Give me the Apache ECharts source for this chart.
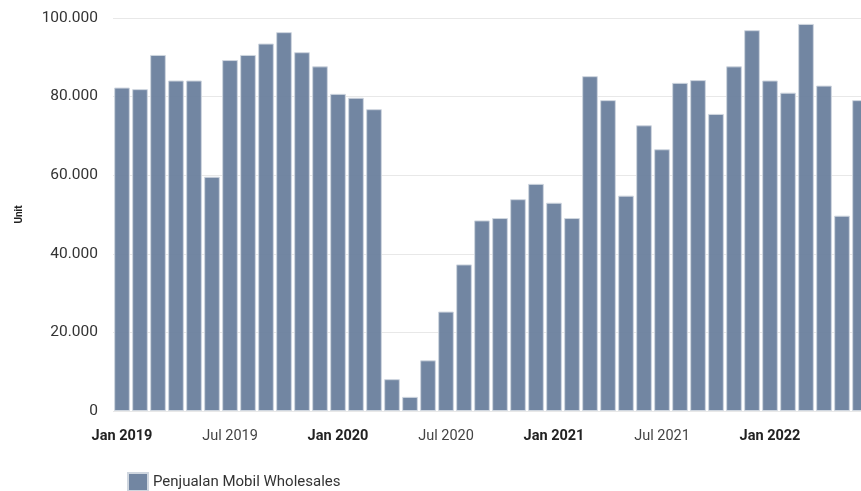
<!DOCTYPE html>
<html>
<head>
<meta charset="utf-8">
<script src="https://cdn.jsdelivr.net/npm/echarts@6/dist/echarts.min.js"></script>
<style>
html,body{margin:0;padding:0;background:#fff;overflow:hidden;width:861px;height:491px;}
#chart{width:869px;height:491px;}
</style>
</head>
<body>
<div id="chart"></div>
<script>
var categories = [
  'Jan 2019','Feb 2019','Mar 2019','Apr 2019','May 2019','Jun 2019','Jul 2019','Aug 2019','Sep 2019','Oct 2019','Nov 2019','Dec 2019',
  'Jan 2020','Feb 2020','Mar 2020','Apr 2020','May 2020','Jun 2020','Jul 2020','Aug 2020','Sep 2020','Oct 2020','Nov 2020','Dec 2020',
  'Jan 2021','Feb 2021','Mar 2021','Apr 2021','May 2021','Jun 2021','Jul 2021','Aug 2021','Sep 2021','Oct 2021','Nov 2021','Dec 2021',
  'Jan 2022','Feb 2022','Mar 2022','Apr 2022','May 2022','Jun 2022'
];
var wholesales = [
  82300, 81900, 90600, 84100, 84100, 59600, 89300, 90600, 93500, 96400, 91300, 87700,
  80700, 79700, 76800, 8100, 3600, 12900, 25300, 37300, 48500, 49100, 53900, 57800,
  53000, 49100, 85200, 79100, 54800, 72700, 66600, 83500, 84200, 75600, 87700, 96900,
  84100, 81000, 98500, 82800, 49700, 79100
];
var yTicks = [0, 20000, 40000, 60000, 80000, 100000];
var seriesName = 'Penjualan Mobil Wholesales';
var yAxisName = 'Unit';

function fmt(v){
  return String(v).replace(/\B(?=(\d{3})+(?!\d))/g, '.');
}

var chart = echarts.init(document.getElementById('chart'), null, {renderer:'canvas'});
chart.setOption({
  animation: false,
  textStyle: {fontFamily: 'Roboto'},
  grid: {left: 113, right: 0, top: 18, bottom: 80, containLabel: false},
  legend: {
    left: 127, top: 472, padding: 0, itemWidth: 20, itemHeight: 18, itemGap: 10,
    icon: 'rect',
    textStyle: {fontSize: 15, color: '#333', fontFamily: 'Roboto'},
    data: [seriesName]
  },
  xAxis: {
    type: 'category',
    data: categories,
    axisLine: {show: false},
    axisTick: {show: false},
    axisLabel: {
      interval: function(i){ return i % 6 === 0; },
      margin: 18,
      formatter: function(v){
        return v.indexOf('Jan') === 0 ? '{b|' + v + '}' : '{n|' + v + '}';
      },
      rich: {
        b: {fontSize: 14.5, fontWeight: 'bold', color: '#222', fontFamily: 'Roboto'},
        n: {fontSize: 14.5, color: '#444', fontFamily: 'Roboto'}
      }
    }
  },
  yAxis: {
    type: 'value',
    min: yTicks[0], max: yTicks[yTicks.length - 1], interval: yTicks[1] - yTicks[0],
    name: yAxisName,
    nameLocation: 'middle',
    nameRotate: 90,
    nameGap: 89,
    nameTextStyle: {fontSize: 10, fontWeight: 'bold', color: '#222', fontFamily: 'Roboto'},
    axisLine: {show: false},
    axisTick: {show: false},
    axisLabel: {
      margin: 15, fontSize: 15.5, color: '#333', fontFamily: 'Roboto',
      formatter: function(v){ return fmt(v); }
    },
    splitLine: {lineStyle: {color: '#e8e8e8', width: 1}}
  },
  series: [{
    name: seriesName,
    type: 'bar',
    data: wholesales,
    barCategoryGap: '13%',
    itemStyle: {color: 'rgba(102,124,154,0.92)', borderColor: '#cfd6df', borderWidth: 1}
  }]
});
</script>
</body>
</html>
